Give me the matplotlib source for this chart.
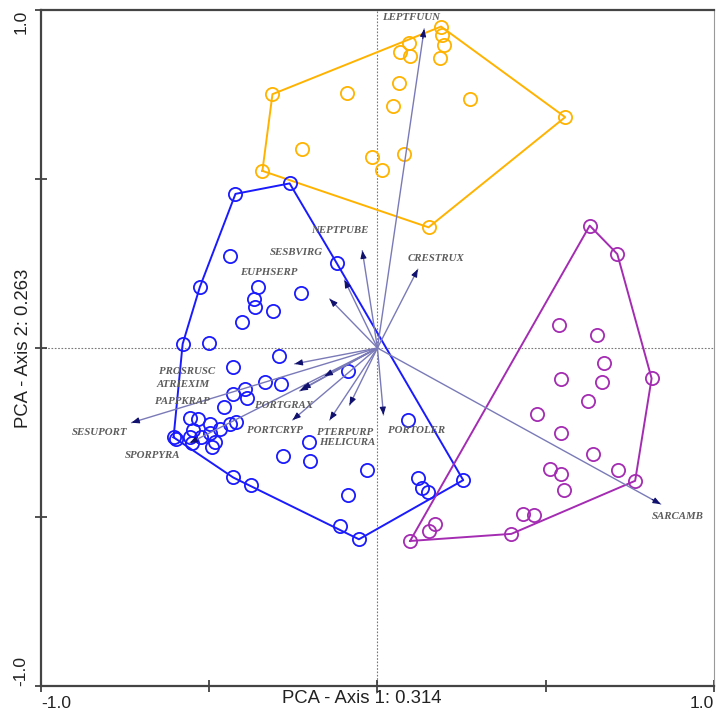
import numpy as np
import matplotlib
matplotlib.use('Agg')
import matplotlib.pyplot as plt

# PCA scores of the sample units, one group per colour
yellow_x = [0.189, 0.191, 0.199, 0.185, 0.093, 0.066, 0.097, 0.063, 0.047, -0.091,
            -0.312, -0.223, -0.017, 0.079, 0.014, -0.342, 0.276, 0.558, 0.152]
yellow_y = [0.951, 0.925, 0.896, 0.857, 0.902, 0.876, 0.863, 0.783, 0.716, 0.755,
            0.751, 0.589, 0.566, 0.573, 0.527, 0.524, 0.737, 0.683, 0.357]

purple_x = [0.631, 0.713, 0.815, 0.766, 0.398, 0.097, 0.541, 0.654, 0.674, 0.546,
            0.667, 0.626, 0.473, 0.546, 0.640, 0.714, 0.513, 0.545, 0.556, 0.434,
            0.466, 0.171, 0.152]
purple_y = [0.362, 0.278, -0.090, -0.393, -0.550, -0.571, 0.067, 0.039, -0.045, -0.092,
            -0.101, -0.157, -0.194, -0.251, -0.313, -0.361, -0.357, -0.373, -0.420, -0.492,
            -0.495, -0.521, -0.541]

blue_x = [-0.422, -0.261, -0.121, -0.439, -0.528, -0.355, -0.367, -0.363, -0.228, -0.311,
          -0.404, -0.501, -0.579, -0.428, -0.293, -0.088, -0.335, -0.288, -0.395, -0.430,
          -0.389, -0.457, -0.558, -0.534, -0.499, -0.438, -0.421, -0.469, -0.548, -0.606,
          -0.599, -0.558, -0.525, -0.499, -0.484, -0.493, -0.550, -0.429, -0.377, -0.281,
          -0.202, -0.199, -0.031, -0.088, -0.111, -0.055, 0.092, 0.120, 0.133, 0.149, 0.255]
blue_y = [0.456, 0.487, 0.251, 0.272, 0.180, 0.180, 0.145, 0.120, 0.162, 0.109,
          0.076, 0.016, 0.012, -0.055, -0.025, -0.067, -0.102, -0.107, -0.121, -0.136,
          -0.149, -0.175, -0.208, -0.210, -0.225, -0.225, -0.219, -0.239, -0.243, -0.264,
          -0.269, -0.263, -0.262, -0.251, -0.277, -0.294, -0.282, -0.383, -0.405, -0.320,
          -0.277, -0.333, -0.361, -0.435, -0.527, -0.566, -0.212, -0.385, -0.415, -0.426, -0.391]

# species vectors (biplot) and where their labels sit
species = ['LEPTFUUN', 'NEPTPUBE', 'SESBVIRG', 'EUPHSERP', 'CRESTRUX', 'PORTOLER',
           'SARCAMB', 'SESUPORT', 'SPORPYRA', 'PROSRUSC', 'ATRIEXIM', 'PAPPKRAP',
           'PORTGRAX', 'PORTCRYP', 'PTERPURP', 'HELICURA']
vec_x = [0.139, -0.045, -0.098, -0.142, 0.120, 0.018, 0.842, -0.731, -0.558, -0.246,
         -0.223, -0.231, -0.157, -0.252, -0.142, -0.083]
vec_y = [0.944, 0.288, 0.201, 0.145, 0.233, -0.198, -0.462, -0.221, -0.281, -0.047,
         -0.121, -0.127, -0.083, -0.213, -0.213, -0.169]
lab_x = [0.015, -0.196, -0.320, -0.409, 0.089, 0.030, 0.816, -0.908, -0.751, -0.650,
         -0.656, -0.662, -0.365, -0.389, -0.181, -0.172]
lab_y = [0.979, 0.349, 0.284, 0.222, 0.266, -0.243, -0.500, -0.249, -0.317, -0.071,
         -0.109, -0.157, -0.169, -0.243, -0.249, -0.281]


def hull(xs, ys):
    # monotone chain convex hull, returns closed polygon
    pts = sorted(set(zip(xs, ys)))

    def cross(o, a, b):
        return (a[0] - o[0]) * (b[1] - o[1]) - (a[1] - o[1]) * (b[0] - o[0])
    lower, upper = [], []
    for p in pts:
        while len(lower) >= 2 and cross(lower[-2], lower[-1], p) <= 0:
            lower.pop()
        lower.append(p)
    for p in reversed(pts):
        while len(upper) >= 2 and cross(upper[-2], upper[-1], p) <= 0:
            upper.pop()
        upper.append(p)
    poly = lower[:-1] + upper[:-1]
    poly.append(poly[0])
    return np.array(poly)


plt.rcParams['font.family'] = ['Liberation Sans', 'DejaVu Sans']
fig = plt.figure(figsize=(7.16, 7.15), dpi=100)
ax = fig.add_axes([0.0573, 0.0406, 0.9397, 0.9454])

ax.axhline(0, color='#777777', lw=0.8, ls=(0, (1.5, 1.5)), zorder=1)
ax.axvline(0, color='#777777', lw=0.8, ls=(0, (1.5, 1.5)), zorder=1)

groups = [(blue_x, blue_y, '#1a1aff'), (yellow_x, yellow_y, '#ffb300'),
          (purple_x, purple_y, '#a42cb2')]
for gx, gy, col in groups:
    h = hull(gx, gy)
    ax.plot(h[:, 0], h[:, 1], color=col, lw=1.4, zorder=3)
    ax.plot(gx, gy, 'o', ms=9.5, mfc='none', mec=col, mew=1.3, zorder=4)

for i, name in enumerate(species):
    tip = (vec_x[i], vec_y[i])
    ax.annotate('', xy=tip, xytext=(0, 0),
                arrowprops=dict(arrowstyle='-', color='#7a7ab8', lw=1.0,
                                shrinkA=0, shrinkB=0), zorder=5)
    ax.annotate('', xy=tip, xytext=(vec_x[i] * 0.97, vec_y[i] * 0.97),
                arrowprops=dict(arrowstyle='-|>,head_length=0.45,head_width=0.18',
                                color='#10106e', lw=0.8, shrinkA=0, shrinkB=0), zorder=6)
    ax.text(lab_x[i], lab_y[i], name, fontsize=7.8, style='italic', weight='bold',
            family=['Liberation Serif', 'DejaVu Serif'], color='#5c5c5c',
            ha='left', va='center', zorder=7)

ax.set_xlim(-1, 1)
ax.set_ylim(-1, 1)
ax.set_xticks([-1, -0.5, 0, 0.5, 1])
ax.set_yticks([-1, -0.5, 0, 0.5, 1])
ax.set_xticklabels(['-1.0', '', '', '', '1.0'], fontsize=12.5)
ax.set_yticklabels(['-1.0', '', '', '', '1.0'], fontsize=12.5, rotation=90)
xl = ax.get_xticklabels()
xl[0].set_ha('left')
xl[-1].set_ha('right')
yl = ax.get_yticklabels()
yl[0].set_va('bottom')
yl[-1].set_va('top')
ax.tick_params(axis='both', direction='inout', length=8, width=1.2, color='#333333',
               labelcolor='#222222', pad=3)
ax.tick_params(axis='y', pad=5)

for s in ['left', 'bottom', 'top']:
    ax.spines[s].set_linewidth(1.6)
    ax.spines[s].set_color('#444444')
ax.spines['right'].set_linewidth(0.8)
ax.spines['right'].set_color('#999999')

ax.set_xlabel('PCA - Axis 1: 0.314', fontsize=13.3, color='#222222')
ax.set_ylabel('PCA - Axis 2: 0.263', fontsize=13.3, color='#222222')
ax.xaxis.set_label_coords(0.476, -0.006)
ax.yaxis.set_label_coords(-0.013, 0.5)

fig.savefig('out.png', dpi=100)
